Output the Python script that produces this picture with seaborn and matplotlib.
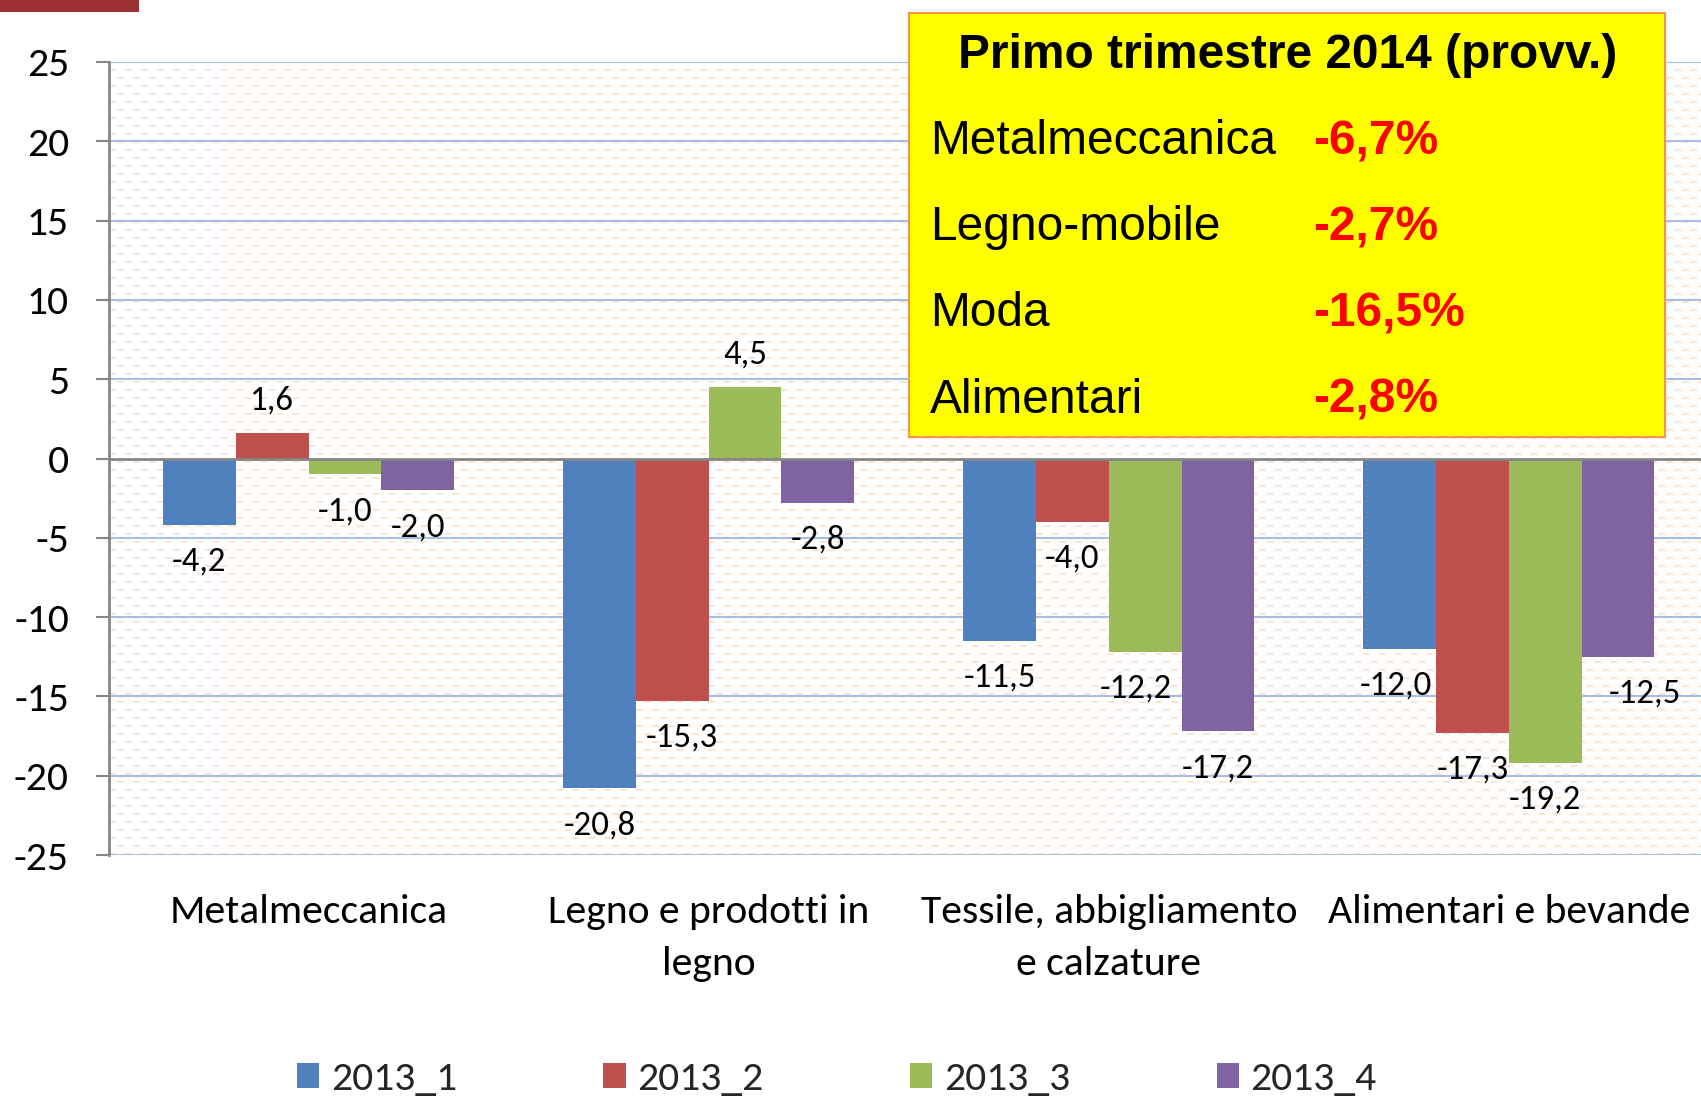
import matplotlib
matplotlib.use("Agg")
import matplotlib.pyplot as plt
from matplotlib import font_manager
from matplotlib.patches import Rectangle
from matplotlib.lines import Line2D
import seaborn as sns
import pandas as pd
import numpy as np

# ---------------- data ----------------
categories = ["Metalmeccanica", "Legno e prodotti in\nlegno",
              "Tessile, abbigliamento\ne calzature", "Alimentari e bevande"]
series = ["2013_1", "2013_2", "2013_3", "2013_4"]
s2013_1 = [-4.2, -20.8, -11.5, -12.0]
s2013_2 = [1.6, -15.3, -4.0, -17.3]
s2013_3 = [-1.0, 4.5, -12.2, -19.2]
s2013_4 = [-2.0, -2.8, -17.2, -12.5]
yticks = [-25, -20, -15, -10, -5, 0, 5, 10, 15, 20, 25]

box_title = "Primo trimestre 2014 (provv.)"
box_sectors = ["Metalmeccanica", "Legno-mobile", "Moda", "Alimentari"]
box_values = ["-6,7%", "-2,7%", "-16,5%", "-2,8%"]

colors = ["#4F81BD", "#C0504D", "#9BBB59", "#8064A2"]

# ---------------- fonts ----------------
sns.set_theme(style="white")
avail = {f.name for f in font_manager.fontManager.ttflist}
main_font = "Carlito" if "Carlito" in avail else ("Lato" if "Lato" in avail else "DejaVu Sans")
box_font = "Liberation Sans" if "Liberation Sans" in avail else "DejaVu Sans"
plt.rcParams["font.family"] = [main_font, "DejaVu Sans"]
plt.rcParams["lines.scale_dashes"] = False

vals = {"2013_1": s2013_1, "2013_2": s2013_2, "2013_3": s2013_3, "2013_4": s2013_4}
rows = []
for s in series:
    for c, v in zip(categories, vals[s]):
        rows.append({"cat": c, "series": s, "val": v})
df = pd.DataFrame(rows)

W, H = 1701, 1100
fig = plt.figure(figsize=(W / 100, H / 100), dpi=100)
fig.patch.set_facecolor("white")
ax = fig.add_axes([108.5 / W, 1 - 855 / H, 1600.5 / W, (855 - 62) / H])
ax.set_facecolor("white")

sns.barplot(data=df, x="cat", y="val", hue="series", order=categories,
            hue_order=series, palette=colors, saturation=1, width=0.727,
            gap=0, ax=ax, zorder=2, linewidth=0, errorbar=None)

ax.set_xlim(-0.5, 3.5)
ax.set_ylim(-25, 25)
ax.set_yticks(yticks)
ax.set_yticklabels([str(t) for t in yticks], fontsize=30, color="black")
ax.set_xlabel("")
ax.set_ylabel("")
ax.tick_params(axis="x", length=0, pad=28, labelsize=30, colors="black")
ax.tick_params(axis="y", length=9.5, width=1.5, color="#868686", pad=19, direction="out",
               left=True)
for lab in ax.get_xticklabels():
    lab.set_linespacing(1.55)

for side in ["top", "right", "bottom"]:
    ax.spines[side].set_visible(False)
ax.spines["left"].set_color("#868686")
ax.spines["left"].set_linewidth(2)

# gridlines
for t in yticks:
    if t != 0:
        ax.axhline(t, color="#A7BDE5", lw=1.5, zorder=1)
ax.axhline(0, color="#868686", lw=2, zorder=3)

# background dashed texture
axh_px = 855 - 62
nrows = int(axh_px / 8)
for i in range(1, nrows + 1):
    yy = 1 - (i * 8) / axh_px
    off = 0 if i % 2 else 8 / 1.389
    ln = Line2D([0, 1], [yy, yy], transform=ax.transAxes, color="#FCE4D2",
                lw=1.5, zorder=0.5)
    ln.set_linestyle((off, (5.0, 6.5)))
    ax.add_line(ln)

# data labels
dx_adj = {("2013_2", 1): 10, ("2013_3", 2): -9, ("2013_1", 3): -4, ("2013_4", 3): 27}
for s, cont in zip(series, ax.containers):
    for j, bar in enumerate(cont.patches):
        v = vals[s][j]
        xc = bar.get_x() + bar.get_width() / 2
        txt = f"{v:.1f}".replace(".", ",")
        dy = 23.4 if v > 0 else -26.5
        dx = dx_adj.get((s, j), 0) / 1.389
        ax.annotate(txt, (xc, v), xytext=(dx, dy), textcoords="offset points",
                    ha="center", va="center", fontsize=25, color="black", zorder=5)

# legend
leg = ax.get_legend()
if leg is not None:
    leg.remove()
handles = [Rectangle((0, 0), 1, 1, facecolor=c, edgecolor="none") for c in colors]
fig.legend(handles, series, loc="center", bbox_to_anchor=(0.492, 1 - 1079 / H),
           ncol=4, frameon=False, fontsize=30, handlelength=0.53, handleheight=0.53,
           handletextpad=0.28, columnspacing=3.52)

# top-left decoration
fig.patches.append(Rectangle((0, 1 - 12 / H), 139 / W, 12 / H, transform=fig.transFigure,
                             facecolor="#9B2F32", edgecolor="none", zorder=10))

# yellow box
bx0, by0, bx1, by1 = 909, 13, 1665, 437
fig.patches.append(Rectangle((bx0 / W, 1 - by1 / H), (bx1 - bx0) / W, (by1 - by0) / H,
                             transform=fig.transFigure, facecolor="#FFFF00",
                             edgecolor="#F79646", lw=1.5, zorder=10))
fig.text(1288 / W, 1 - 68 / H, box_title, ha="center", va="baseline",
         fontsize=34.5, fontweight="bold", family=box_font, color="black", zorder=11)
baselines = [154, 240, 326, 413]
for name, val, b in zip(box_sectors, box_values, baselines):
    fig.text(930 / W, 1 - b / H, name, ha="left", va="baseline", fontsize=34.5,
             family=box_font, color="black", zorder=11)
    fig.text(1313 / W, 1 - b / H, val, ha="left", va="baseline", fontsize=34.5,
             fontweight="bold", family=box_font, color="#FF0000", zorder=11)

fig.savefig("out.png", dpi=100)
